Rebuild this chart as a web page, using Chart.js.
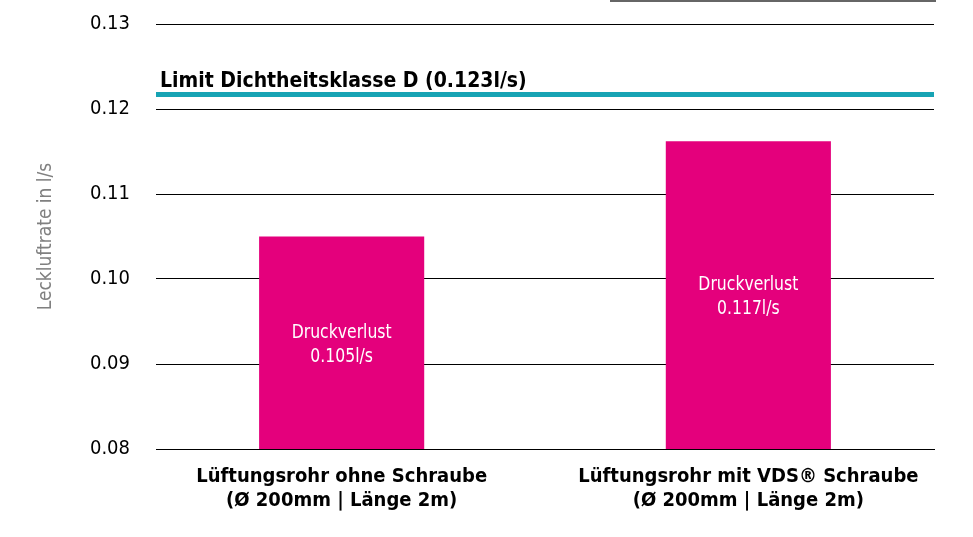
<!DOCTYPE html>
<html>
<head>
<meta charset="utf-8">
<script src="https://cdn.jsdelivr.net/npm/chart.js@4"></script>
<style>
  html, body { margin: 0; padding: 0; background: #fff; }
  #wrap { width: 973px; height: 537px; position: relative; }
</style>
</head>
<body>
<div id="wrap"><canvas id="leak-chart"></canvas></div>
<script>
// Data
const categories = [
    ['Lüftungsrohr ohne Schraube', '(Ø 200mm | Länge 2m)'],
    ['Lüftungsrohr mit VDS® Schraube', '(Ø 200mm | Länge 2m)']
];
const leakValues = [0.105, 0.1162];
const barLabels = [['Druckverlust', '0.105l/s'], ['Druckverlust', '0.117l/s']];
const limitValue = 0.1217;
const limitLabel = 'Limit Dichtheitsklasse D (0.123l/s)';
const yTicks = [0.08, 0.09, 0.10, 0.11, 0.12, 0.13];

const FONT = '"DejaVu Sans Condensed", "DejaVu Sans", sans-serif';

// limit line + its label, drawn above the bars
const limitPlugin = {
    id: 'limitLine',
    afterDatasetsDraw(chart) {
        const { ctx, chartArea } = chart;
        const y = chart.scales.y.getPixelForValue(limitValue);
        ctx.save();
        ctx.strokeStyle = '#17a3b4';
        ctx.lineWidth = 5;
        ctx.beginPath();
        ctx.moveTo(chartArea.left, y);
        ctx.lineTo(chartArea.right, y);
        ctx.stroke();
        ctx.fillStyle = '#000';
        ctx.font = 'bold 21px ' + FONT;
        ctx.textBaseline = 'bottom';
        ctx.fillText(limitLabel, chartArea.left + 4, y - 3);
        ctx.restore();
    }
};

// white text inside each bar (slightly condensed like the original)
const barTextPlugin = {
    id: 'barText',
    afterDatasetsDraw(chart) {
        const { ctx } = chart;
        const xs = chart.scales.x, ys = chart.scales.y;
        const sx = 0.87;
        ctx.save();
        ctx.fillStyle = '#fff';
        ctx.font = '20px ' + FONT;
        ctx.textAlign = 'center';
        ctx.textBaseline = 'middle';
        leakValues.forEach((v, i) => {
            const x = xs.getPixelForValue(i);
            const mid = (ys.getPixelForValue(v) + ys.bottom) / 2 + 2;
            ctx.save();
            ctx.translate(x, mid);
            ctx.scale(sx, 1);
            ctx.fillText(barLabels[i][0], 0, -12);
            ctx.fillText(barLabels[i][1], 0, 12);
            ctx.restore();
        });
        ctx.restore();
    }
};

// partly visible legend box at the top edge
const boxPlugin = {
    id: 'legendBox',
    afterDraw(chart) {
        const { ctx } = chart;
        ctx.save();
        ctx.strokeStyle = '#666';
        ctx.lineWidth = 2;
        ctx.strokeRect(611, -20, 324, 21);
        ctx.restore();
    }
};

const ctx = document.getElementById('leak-chart').getContext('2d');
new Chart(ctx, {
    type: 'bar',
    data: {
        datasets: [{
            data: leakValues.map((v, i) => ({ x: i, y: v })),
            backgroundColor: '#e4007c',
            barPercentage: 0.406,
            categoryPercentage: 1.0
        }]
    },
    options: {
        responsive: true,
        maintainAspectRatio: false,
        animation: false,
        layout: { padding: { top: 24, right: 39 } },
        plugins: {
            legend: { display: false },
            tooltip: { enabled: false }
        },
        scales: {
            x: {
                type: 'linear',
                offset: false,
                min: -0.4565,
                max: 1.4565,
                afterBuildTicks(scale) {
                    scale.ticks = categories.map((c, i) => ({ value: i }));
                },
                afterFit(scale) { scale.height = 88; },
                grid: { display: false, offset: false },
                border: { color: '#000' },
                ticks: {
                    color: '#000',
                    font: { family: FONT, size: 20, weight: 'bold', lineHeight: 1.2 },
                    padding: 8,
                    maxRotation: 0,
                    autoSkip: false,
                    callback: (v) => categories[v]
                }
            },
            y: {
                min: 0.08,
                max: 0.13,
                afterBuildTicks(scale) {
                    scale.ticks = yTicks.map(v => ({ value: v }));
                },
                afterFit(scale) {
                    scale.width = 156;
                    scale.paddingTop = 0;
                    scale.paddingBottom = 0;
                },
                grid: { color: '#000', drawTicks: false },
                border: { display: false },
                ticks: {
                    color: '#000',
                    padding: 26,
                    font: { family: FONT, size: 20 },
                    callback: (v) => v.toFixed(2)
                },
                title: {
                    display: true,
                    text: 'Leckluftrate in l/s',
                    color: '#808080',
                    font: { family: FONT, size: 19 },
                    padding: { top: 35, bottom: 0 }
                }
            }
        }
    },
    plugins: [limitPlugin, barTextPlugin, boxPlugin]
});
</script>
</body>
</html>
